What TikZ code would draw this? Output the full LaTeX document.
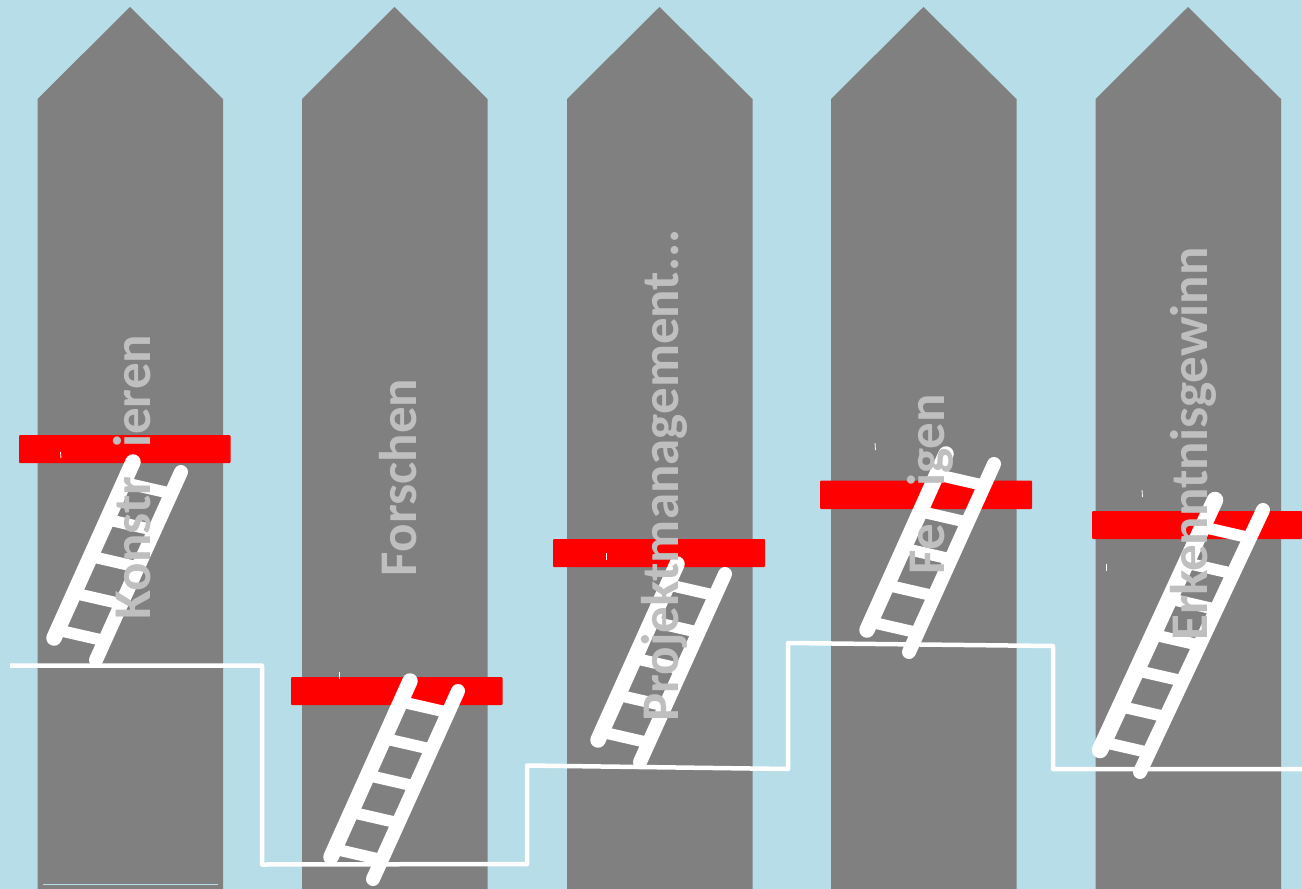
\documentclass[tikz,border=0pt]{standalone}
\usepackage{fontspec}
\setmainfont{Carlito}
\begin{document}
\begin{tikzpicture}[x=1pt, y=-1pt,
  balken/.style={fill=red, rounded corners=1pt},
  holm/.style={draw=white, line width=14pt, line cap=round},
  sprosse/.style={draw=white, line width=11.5pt},
  stufen/.style={draw=white, line width=4.5pt, line join=round},
  kratzer/.style={draw=white, line width=0.8pt},
  titel/.style={rotate=90, text=titelgrau, font=\fontsize{53}{53}\selectfont\bfseries, inner sep=0pt}]
  \definecolor{himmel}{HTML}{B7DDE8}
  \definecolor{pfeilgrau}{HTML}{808080}
  \definecolor{titelgrau}{HTML}{BFBFBF}
  \useasboundingbox (0, 0) rectangle (1302, 889);
  \fill[himmel] (0, 0) rectangle (1302, 889);
  % Pfeile
  \foreach \px in {37.5, 302, 567, 831, 1095.5}
    \fill[pfeilgrau] (\px, 889) -- (\px, 99) -- (\px + 92.5, 7) --
    (\px + 185.5, 99) -- (\px + 185.5, 889) -- cycle;
  \draw[himmel, line width=1.5pt] (43, 884.5) -- (218, 884.5);
  % Balken
  \fill[balken] (19, 435) rectangle (230.5, 463);
  \fill[balken] (291, 677) rectangle (502.5, 705);
  \fill[balken] (553, 539) rectangle (765, 567);
  \fill[balken] (820, 480.5) rectangle (1032, 509);
  \fill[balken] (1092, 511) rectangle (1302, 539);
  \draw[kratzer] (60.5, 452) -- (61, 458);
  \draw[kratzer] (339.5, 672) -- (339.5, 679);
  \draw[kratzer] (606, 553) -- (606, 560);
  \draw[kratzer] (875, 443) -- (875.5, 450);
  \draw[kratzer] (1142, 490) -- (1142.5, 497);
  \draw[kratzer] (1106.5, 564) -- (1106.5, 571);
  % Stufenlinie
  \draw[stufen] (10, 665.5) -- (262, 665.5) -- (262, 864.5) -- (527, 864) --
  (527, 765.5) -- (788, 769) -- (788, 643) -- (1053, 646) -- (1053, 769) -- (1302, 769);
  % Leitern
  \foreach \lx/\ly in {54/638, 331/857, 598/740, 867/630} {
    \begin{scope}[shift={(\lx, \ly)}]
      \draw[holm, line width=15.5pt] (0, 0) -- (79, -176);
      \draw[holm] (42, 22) -- (127, -166);
      \foreach \k in {0, 1, 2, 3, 4}
        \draw[sprosse] (3.6 + 17.6 * \k, -8 - 36.6 * \k) -- ++(48, 11);
    \end{scope}
  }
  \begin{scope}[shift={(1099, 750)}]
    \draw[holm, line width=16.5pt] (1, 0) -- (116, -250);
    \draw[holm] (41, 22) -- (164, -240);
    \foreach \k in {0, 1, ..., 6}
      \draw[sprosse] (3.6 + 16.8 * \k, -8 - 35.8 * \k) -- ++(48, 11);
  \end{scope}
  % Beschriftung
  \node[titel] (konstruieren) at (132, 477) {Konstr\phantom{u}ieren};
  \node[titel] (forschen) at (398, 477.5) {Forschen};
  \node[titel] (projekt) at (664, 475.5) {Projektmanagement...};
  \node[titel] (fertigen) at (930, 484) {Fe\phantom{rt}igen};
  \node[titel] (erkenntnis) at (1193, 444) {Erkenntnisgewinn};
\end{tikzpicture}
\end{document}
